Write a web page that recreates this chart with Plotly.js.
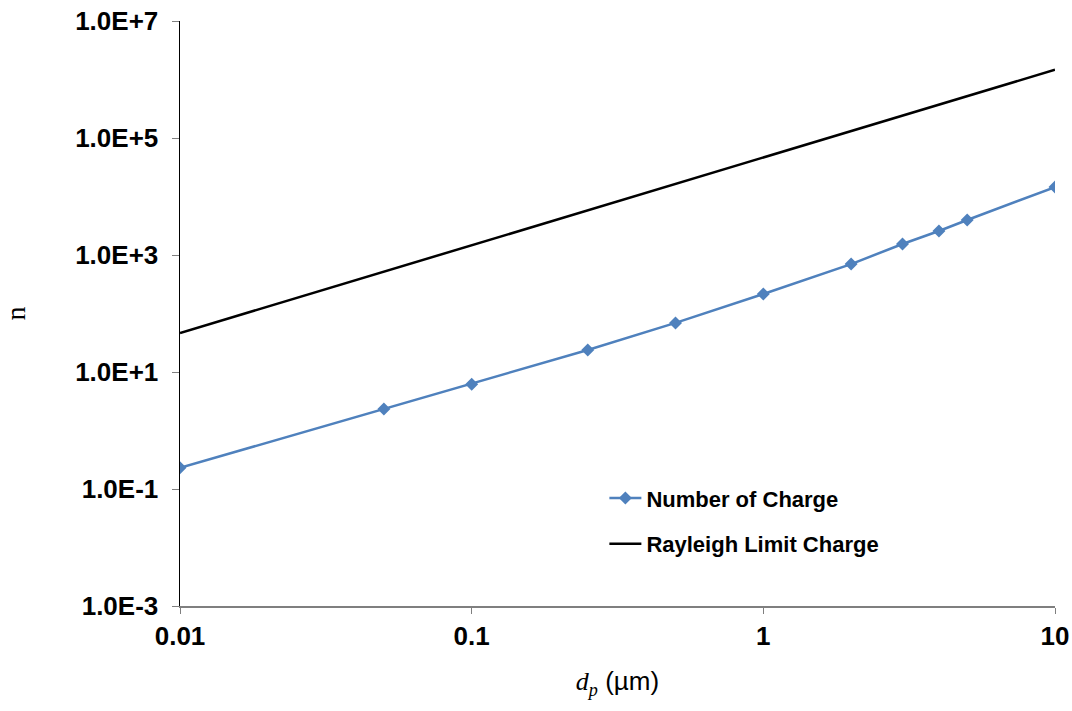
<!DOCTYPE html>
<html>
<head>
<meta charset="utf-8">
<script src="https://cdn.plot.ly/plotly-3.0.1.min.js"></script>
<style>html,body{margin:0;padding:0;background:#fff;}#chart{width:1072px;height:711px;}</style>
</head>
<body>
<div id="chart"></div>
<script>
var dp = [0.01, 0.05, 0.1, 0.25, 0.5, 1, 2, 3, 4, 5, 10];
var numberOfCharge = [0.23, 2.33, 6.2, 23.8, 69, 215, 700, 1540, 2570, 3960, 14500];
var dpRayleigh = [0.01, 0.1, 1, 10];
var rayleighLimit = [46.4, 1468, 46400, 1468000];
var yTickVals = [1e-3, 1e-1, 1e1, 1e3, 1e5, 1e7];
var yTickText = ["1.0E-3", "1.0E-1", "1.0E+1", "1.0E+3", "1.0E+5", "1.0E+7"];
var xTickVals = [0.01, 0.1, 1, 10];
var xTickText = ["0.01", "0.1", "1", "10"];

var sans = "Arial, 'Liberation Sans', sans-serif";
var serif = "'Times New Roman', 'Liberation Serif', serif";

var traces = [
  {
    x: dp, y: numberOfCharge, type: "scatter", mode: "lines+markers",
    name: "<b>Number of Charge</b>", legendgroup: "a",
    line: {color: "#4F81BD", width: 2.5},
    marker: {symbol: "diamond", size: 10, color: "#4F81BD"}
  },
  {
    x: dpRayleigh, y: rayleighLimit, type: "scatter", mode: "lines",
    name: "<b>Rayleigh Limit Charge</b>", legendgroup: "b",
    line: {color: "#000000", width: 2.5}
  }
];

var layout = {
  width: 1072, height: 711,
  margin: {l: 180, r: 17, t: 21, b: 105},
  paper_bgcolor: "#ffffff", plot_bgcolor: "#ffffff",
  font: {family: sans, color: "#000"},
  showlegend: true,
  legend: {
    x: 0.485, y: 0.22, xanchor: "left", yanchor: "top",
    font: {family: sans, size: 22, color: "#000"},
    bgcolor: "rgba(0,0,0,0)", tracegroupgap: 14,
    traceorder: "grouped", itemwidth: 32
  },
  xaxis: {
    type: "log", range: [-2, 1],
    tickvals: xTickVals, ticktext: xTickText,
    tickfont: {family: sans, size: 26, color: "#000", weight: "bold"},
    showgrid: false, zeroline: false,
    showline: true, linecolor: "#7f7f7f", linewidth: 1.5,
    ticks: "outside", ticklen: 6, tickcolor: "#7f7f7f",
    title: {text: "<span style=\"font-family:'Times New Roman','Liberation Serif',serif\"><i>d</i><sub><i>p</i></sub></span> (µm)",
            font: {family: sans, size: 26, color: "#000"}, standoff: 22}
  },
  yaxis: {
    type: "log", range: [-3, 7],
    tickvals: yTickVals, ticktext: yTickText,
    tickfont: {family: sans, size: 26, color: "#000", weight: "bold"},
    showgrid: false, zeroline: false,
    showline: true, linecolor: "#000", linewidth: 1.5,
    ticks: "outside", ticklen: 7, tickcolor: "#7f7f7f",
    ticklabelstandoff: 8,
    title: {text: "n", font: {family: serif, size: 28, color: "#000"}, standoff: 48}
  }
};

Plotly.newPlot("chart", traces, layout, {displayModeBar: false, staticPlot: true});
</script>
</body>
</html>
